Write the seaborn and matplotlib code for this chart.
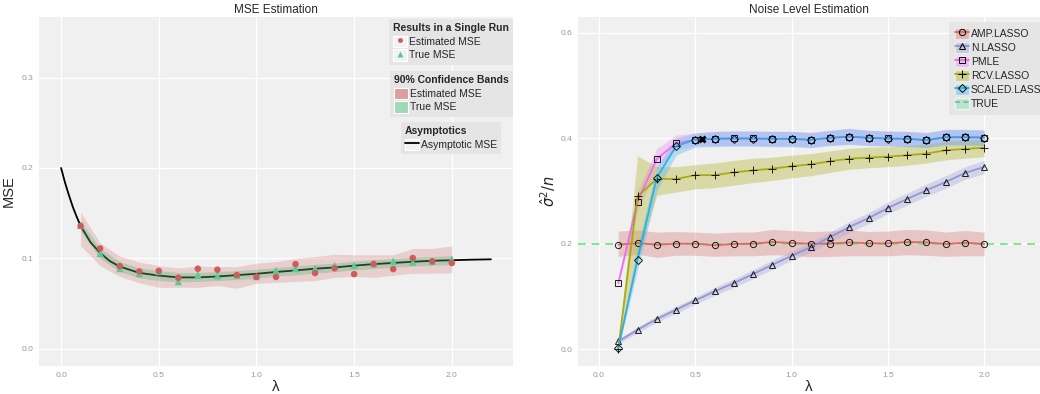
import matplotlib
matplotlib.use("Agg")
import matplotlib.pyplot as plt
import numpy as np
import pandas as pd
import seaborn as sns
from matplotlib.lines import Line2D
from matplotlib.patches import Rectangle

# ---- data: MSE estimation (left) ----
lam = [0.1, 0.2, 0.3, 0.4, 0.5, 0.6, 0.7, 0.8, 0.9, 1.0,
       1.1, 1.2, 1.3, 1.4, 1.5, 1.6, 1.7, 1.8, 1.9, 2.0]
est_mse = [0.136, 0.111, 0.0915, 0.0856, 0.0862, 0.0786, 0.0886, 0.0875, 0.0816, 0.0795,
           0.0795, 0.0937, 0.0838, 0.0891, 0.0826, 0.0938, 0.0882, 0.1004, 0.0968, 0.0949]
true_mse = [0.1365, 0.1055, 0.0888, 0.0832, 0.0855, 0.0743, 0.0819, 0.0808, 0.0815, 0.0800,
            0.0866, 0.0888, 0.0889, 0.0921, 0.0921, 0.0940, 0.0969, 0.0960, 0.0966, 0.0992]
est_lo = [0.114, 0.092, 0.080, 0.073, 0.068, 0.068, 0.068, 0.070, 0.067, 0.0725,
          0.0735, 0.0745, 0.0755, 0.079, 0.080, 0.079, 0.0814, 0.0836, 0.0836, 0.084]
est_hi = [0.151, 0.117, 0.1025, 0.096, 0.092, 0.0895, 0.0915, 0.091, 0.091, 0.0947,
          0.0965, 0.100, 0.102, 0.1046, 0.104, 0.104, 0.104, 0.111, 0.111, 0.1138]
true_lo = [0.130, 0.100, 0.0855, 0.0785, 0.0755, 0.074, 0.0745, 0.0755, 0.0765, 0.078,
           0.0805, 0.0818, 0.0838, 0.0853, 0.0872, 0.0888, 0.0902, 0.0915, 0.0925, 0.0932]
true_hi = [0.141, 0.111, 0.0965, 0.0895, 0.0865, 0.0845, 0.0845, 0.0855, 0.0865, 0.088,
           0.0898, 0.0916, 0.0934, 0.0948, 0.0968, 0.0985, 0.0998, 0.1011, 0.1022, 0.1030]
lam_asym = [0.0, 0.02, 0.04, 0.06, 0.08, 0.1, 0.15, 0.2, 0.25, 0.3, 0.4, 0.5, 0.6, 0.7, 0.8,
            0.9, 1.0, 1.1, 1.2, 1.3, 1.4, 1.5, 1.6, 1.7, 1.8, 1.9, 2.0, 2.1, 2.2]
asym_mse = [0.200, 0.184, 0.170, 0.157, 0.146, 0.136, 0.118, 0.106, 0.097, 0.091, 0.084, 0.081,
            0.079, 0.079, 0.080, 0.0815, 0.083, 0.085, 0.0867, 0.0886, 0.090, 0.092, 0.0937,
            0.095, 0.0963, 0.0974, 0.098, 0.0986, 0.099]

# ---- data: noise level estimation (right) ----
amp = [0.198, 0.2013, 0.198, 0.200, 0.200, 0.197, 0.1994, 0.200, 0.2032, 0.2013,
       0.200, 0.200, 0.2025, 0.2006, 0.2006, 0.2032, 0.2025, 0.1994, 0.202, 0.1994]
amp_lo = [0.176, 0.180, 0.174, 0.178, 0.178, 0.176, 0.177, 0.177, 0.179, 0.178,
          0.175, 0.176, 0.177, 0.177, 0.177, 0.179, 0.178, 0.176, 0.177, 0.177]
amp_hi = [0.224, 0.226, 0.222, 0.223, 0.222, 0.220, 0.222, 0.222, 0.227, 0.225,
          0.223, 0.224, 0.226, 0.223, 0.224, 0.227, 0.226, 0.222, 0.225, 0.222]
nlasso = [0.0146, 0.0367, 0.057, 0.0747, 0.0924, 0.1095, 0.1253, 0.1424, 0.160, 0.177,
          0.1937, 0.2127, 0.2316, 0.2487, 0.2677, 0.2848, 0.3013, 0.317, 0.334, 0.3456]
n_lo = [0.010, 0.031, 0.051, 0.068, 0.085, 0.102, 0.117, 0.134, 0.151, 0.168,
        0.184, 0.203, 0.221, 0.238, 0.257, 0.273, 0.290, 0.305, 0.322, 0.333]
n_hi = [0.019, 0.042, 0.063, 0.081, 0.099, 0.117, 0.133, 0.151, 0.169, 0.186,
        0.203, 0.222, 0.242, 0.259, 0.279, 0.296, 0.313, 0.329, 0.346, 0.358]
pmle = [0.125, 0.280, 0.3607, 0.3906, 0.3970, 0.3992, 0.3998, 0.3996, 0.3990, 0.3991,
        0.3972, 0.4010, 0.4030, 0.4006, 0.3996, 0.3990, 0.3966, 0.4018, 0.4020, 0.4012]
pmle_lo = [0.120, 0.262, 0.342, 0.378, 0.386, 0.386, 0.386, 0.386, 0.385, 0.385,
           0.383, 0.387, 0.389, 0.387, 0.386, 0.385, 0.383, 0.388, 0.388, 0.387]
pmle_hi = [0.130, 0.300, 0.380, 0.406, 0.410, 0.413, 0.413, 0.413, 0.413, 0.413,
           0.411, 0.415, 0.418, 0.415, 0.413, 0.413, 0.410, 0.416, 0.416, 0.415]
rcv = [0.001, 0.290, 0.3228, 0.3228, 0.330, 0.330, 0.3354, 0.339, 0.3424, 0.3468,
       0.3506, 0.3563, 0.3614, 0.3633, 0.3652, 0.3677, 0.371, 0.3772, 0.3797, 0.3823]
rcv_lo = [0.000, 0.170, 0.292, 0.298, 0.304, 0.306, 0.311, 0.316, 0.320, 0.325,
          0.329, 0.335, 0.341, 0.344, 0.346, 0.349, 0.353, 0.359, 0.362, 0.365]
rcv_hi = [0.004, 0.367, 0.346, 0.346, 0.350, 0.353, 0.358, 0.362, 0.364, 0.368,
          0.371, 0.376, 0.381, 0.383, 0.384, 0.386, 0.389, 0.394, 0.396, 0.398]
scaled = [0.002, 0.170, 0.325, 0.385, 0.3975, 0.3989, 0.3995, 0.3995, 0.3989, 0.3989,
          0.3970, 0.4008, 0.4033, 0.4008, 0.3995, 0.3989, 0.3964, 0.4020, 0.4020, 0.4014]
scaled_lo = [0.000, 0.150, 0.300, 0.368, 0.383, 0.384, 0.385, 0.385, 0.384, 0.384,
             0.382, 0.386, 0.388, 0.386, 0.385, 0.384, 0.382, 0.387, 0.387, 0.386]
scaled_hi = [0.006, 0.195, 0.345, 0.400, 0.410, 0.413, 0.414, 0.414, 0.413, 0.413,
             0.411, 0.415, 0.419, 0.415, 0.414, 0.413, 0.411, 0.417, 0.417, 0.416]
true_level = 0.2
odd_mark = ([0.533], [0.398])   # the stray "x" marker near lambda 0.5

sns.set_style("darkgrid", {"axes.facecolor": "#F0F0F0", "grid.color": "white"})
plt.rcParams["font.family"] = ["Liberation Sans", "DejaVu Sans"]

fig = plt.figure(figsize=(10.4, 3.94), dpi=100)
ax1 = fig.add_axes([39 / 1040, 28 / 394, 474 / 1040, 349 / 394])
ax2 = fig.add_axes([578 / 1040, 28 / 394, 462 / 1040, 349 / 394])

RED = "#CD5C5C"
GREEN = "#5CC991"

# ---- left panel ----
ax1.fill_between(lam, est_lo, est_hi, color="#D98080", alpha=0.3, lw=0, zorder=2)
sns.lineplot(x=lam_asym, y=asym_mse, ax=ax1, color="black", lw=1.3, zorder=3)
ax1.fill_between(lam, true_lo, true_hi, color="#5CB87A", alpha=0.35, lw=0, zorder=4)
df_l = pd.DataFrame({"lam": lam, "est": est_mse, "true": true_mse})
sns.scatterplot(data=df_l, x="lam", y="true", ax=ax1, marker="^", s=28, color=GREEN,
                edgecolor="none", zorder=5)
sns.scatterplot(data=df_l, x="lam", y="est", ax=ax1, marker="o", s=22, color=RED,
                edgecolor="none", zorder=6)

ax1.set_xlim(-0.113, 2.313)
ax1.set_ylim(-0.019, 0.367)
ax1.set_xticks([0.0, 0.5, 1.0, 1.5, 2.0])
ax1.set_yticks([0.0, 0.1, 0.2, 0.3])
ax1.set_title("MSE Estimation", fontsize=8.5, pad=3)
ax1.set_xlabel("λ", fontsize=11, labelpad=1)
ax1.set_ylabel("MSE", fontsize=10.5, labelpad=4)

# ---- right panel ----
right = [
    ("AMP.LASSO", amp, amp_lo, amp_hi, "#D9605A", "#D98080", "o"),
    ("N.LASSO", nlasso, n_lo, n_hi, "#8E8ED0", "#A8A8DC", "^"),
    ("PMLE", pmle, pmle_lo, pmle_hi, "#E766F0", "#EE90F0", "s"),
    ("RCV.LASSO", rcv, rcv_lo, rcv_hi, "#A3A500", "#B5B530", "+"),
    ("SCALED.LASSO", scaled, scaled_lo, scaled_hi, "#1AAEE6", "#55B8F0", "D"),
]
ax2.axhline(true_level, color="#7FE87F", lw=1.4, ls=(0, (4, 3)), zorder=2)
for name, y, lo, hi, lc, fc, mk in right:
    ax2.fill_between(lam, lo, hi, color=fc, alpha=0.38, lw=0, zorder=1)
handles = []
for name, y, lo, hi, lc, fc, mk in right:
    ms = 4.5 if mk in "o^s" else 3.8
    if mk == "+":
        ms = 6
    sns.lineplot(x=lam, y=y, ax=ax2, color=lc, lw=1.3, alpha=0.88, zorder=3,
                 marker=mk, markersize=ms, markerfacecolor="none",
                 markeredgecolor="black", markeredgewidth=0.7)
    handles.append((Rectangle((0, 0), 1, 1, facecolor=fc, alpha=0.45, edgecolor="white"),
                    Line2D([], [], color=lc, lw=1.2, marker=mk, markersize=ms,
                           markerfacecolor="none", markeredgecolor="black",
                           markeredgewidth=0.7)))
ax2.plot(odd_mark[0], odd_mark[1], marker="x", color="black", ms=5, mew=2, ls="none", zorder=6)
handles.append((Rectangle((0, 0), 1, 1, facecolor="#9FE0BF", alpha=0.6, edgecolor="white"),
                Line2D([], [], color="#5CC991", lw=1.2, ls=(0, (3, 2)))))
labels = [r[0] for r in right] + ["TRUE"]

ax2.set_xlim(-0.109, 2.29)
ax2.set_ylim(-0.032, 0.63)
ax2.set_xticks([0.0, 0.5, 1.0, 1.5, 2.0])
ax2.set_yticks([0.0, 0.2, 0.4, 0.6])
ax2.set_title("Noise Level Estimation", fontsize=8.5, pad=3)
ax2.set_xlabel("λ", fontsize=11, labelpad=1)
ax2.set_ylabel(r"$\hat{\sigma}^2/n$", fontsize=10.5, labelpad=2)

for ax in (ax1, ax2):
    ax.grid(True, color="white", lw=1.0)
    ax.tick_params(axis="both", labelsize=6, colors="#999999", length=2.5, width=0.6, pad=1.5)
    for s in ax.spines.values():
        s.set_visible(False)

# ---- legends ----
common = dict(frameon=True, fancybox=False, framealpha=1, facecolor="#E5E5E5",
              edgecolor="none", fontsize=7.5, borderaxespad=0, handlelength=1.3,
              handleheight=1.3, handletextpad=0.2, labelspacing=0.22, borderpad=0.4,
              alignment="left", title_fontproperties={"weight": "bold", "size": 7.5})

key_bg = dict(facecolor="#F2F2F2", edgecolor="white", lw=0.8)
lg1 = ax1.legend(
    [(Rectangle((0, 0), 1, 1, **key_bg),
      Line2D([], [], ls="none", marker="o", color=RED, ms=3.5, mec="none")),
     (Rectangle((0, 0), 1, 1, **key_bg),
      Line2D([], [], ls="none", marker="^", color=GREEN, ms=4, mec="none"))],
    ["Estimated MSE", "True MSE"], title="Results in a Single Run",
    loc="upper right", bbox_to_anchor=(1.0, 0.994), **common)
ax1.add_artist(lg1)
lg2 = ax1.legend(
    [Rectangle((0, 0), 1, 1, facecolor="#DD9E9E", edgecolor="white", lw=0.8),
     Rectangle((0, 0), 1, 1, facecolor="#9CDAB8", edgecolor="white", lw=0.8)],
    ["Estimated MSE", "True MSE"], title="90% Confidence Bands",
    loc="upper right", bbox_to_anchor=(1.0, 0.845), **common)
ax1.add_artist(lg2)
ax1.legend(
    [(Rectangle((0, 0), 1, 1, **key_bg), Line2D([], [], color="black", lw=1.3))],
    ["Asymptotic MSE"], title="Asymptotics",
    loc="upper right", bbox_to_anchor=(0.975, 0.699), **common)

c2 = dict(common)
c2.pop("title_fontproperties")
c2["labelspacing"] = 0.25
c2["borderpad"] = 0.6
ax2.legend(handles, labels, loc="upper left", bbox_to_anchor=(0.803, 0.987), **c2)

fig.savefig("out.png", dpi=100)
